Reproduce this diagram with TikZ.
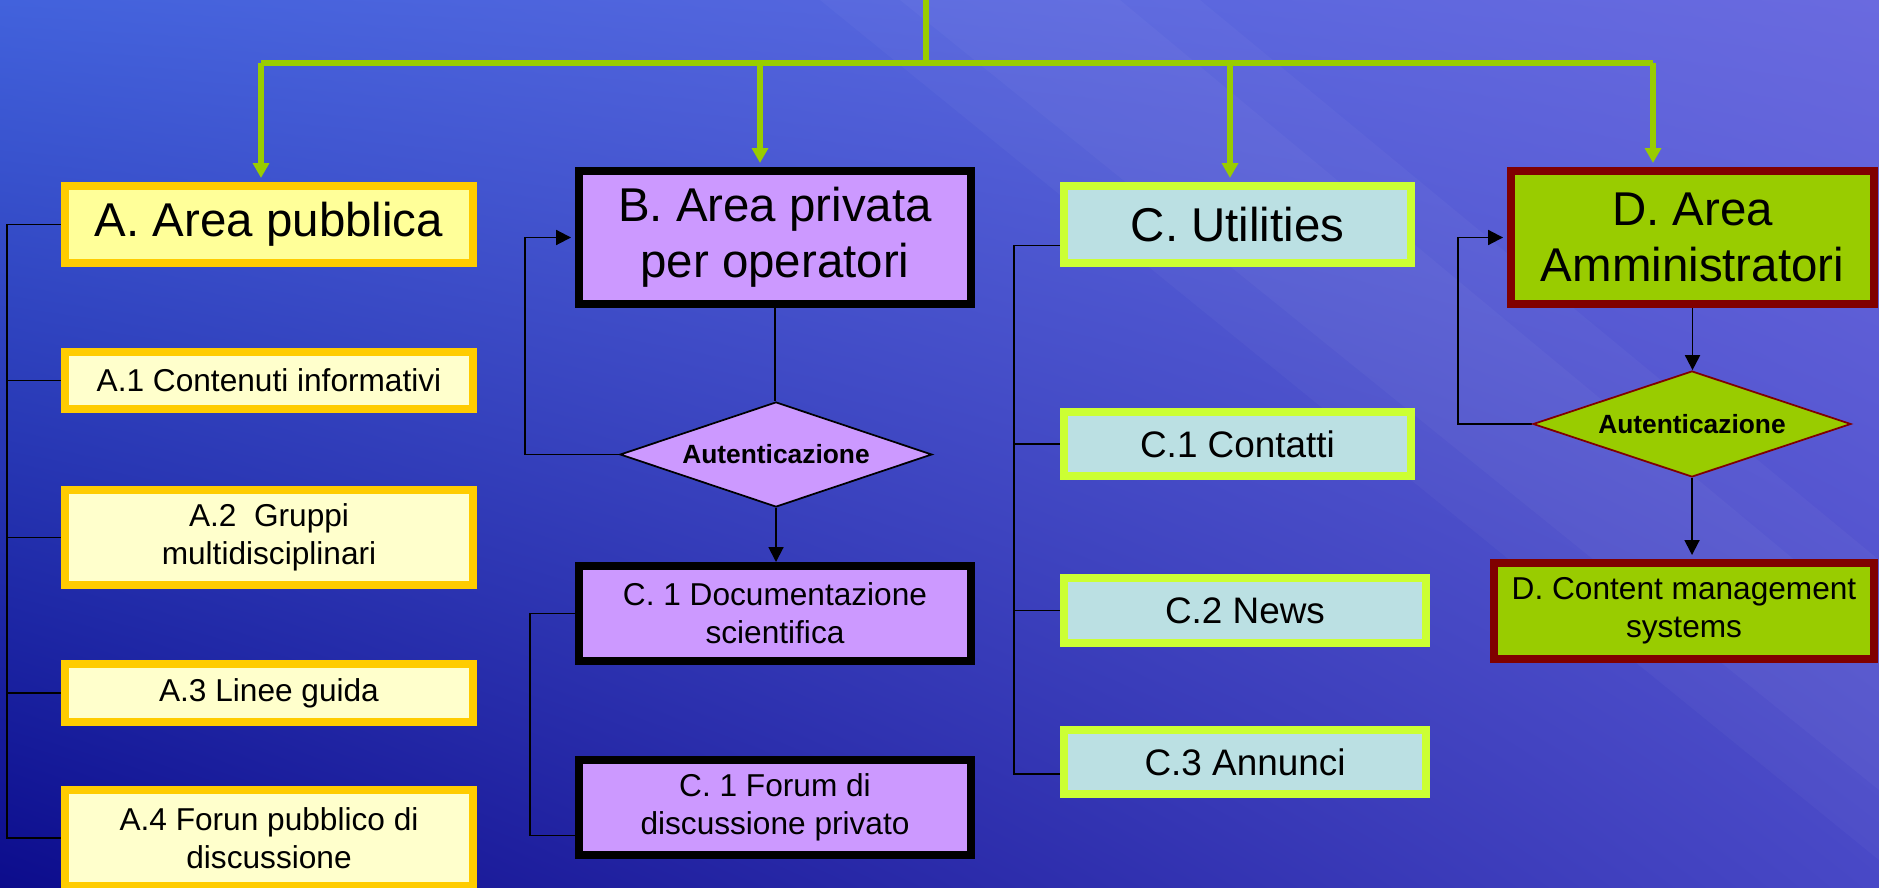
\documentclass[tikz,border=0pt]{standalone}
\usepackage{fontspec}
\setmainfont{Liberation Sans}
\usetikzlibrary{shapes.geometric,arrows.meta,calc,shadings}
\definecolor{bgul}{HTML}{4262DC}
\definecolor{bgur}{HTML}{6A6ADF}
\definecolor{bgll}{HTML}{0C0C8C}
\definecolor{bglr}{HTML}{4848C6}
\definecolor{aline}{HTML}{FFCC00}
\definecolor{ahfill}{HTML}{FFFF99}
\definecolor{aifill}{HTML}{FFFFCC}
\definecolor{bfill}{HTML}{CC99FF}
\definecolor{cline}{HTML}{CCFF33}
\definecolor{cfill}{HTML}{BBE0E3}
\definecolor{dline}{HTML}{800000}
\definecolor{dfill}{HTML}{99CC00}
\definecolor{treegreen}{HTML}{99CC00}
\pgfdeclarelayer{back}
\pgfdeclarelayer{wires}
\pgfsetlayers{back,wires,main}
\begin{document}
\begin{tikzpicture}[x=0.02cm,y=-0.02cm,
        bigfont/.style={font=\fontsize{27}{32}\selectfont},
        midfont/.style={font=\fontsize{18}{21.6}\selectfont},
        box/.style={draw,line width=0.16cm,align=center,inner sep=0pt},
        ahead/.style={box,draw=aline,fill=ahfill,minimum width=8.16cm,bigfont},
        aitem/.style={box,draw=aline,fill=aifill,minimum width=8.16cm,midfont},
        bbox/.style={box,draw=black,fill=bfill,minimum width=7.84cm},
        cbox/.style={box,draw=cline,fill=cfill,font=\fontsize{21}{25}\selectfont},
        dbox/.style={box,draw=dline,fill=dfill},
        auth/.style={diamond,aspect=3,inner sep=0pt,line width=1pt,font=\fontsize{15}{18}\selectfont\bfseries},
        link/.style={line width=1.1pt},
        linkarrow/.style={link,-{Triangle[width=8.5pt,length=8.5pt]}},
        into/.style={shorten >=0.08cm},
        branch/.style={line width=3.4pt,treegreen},
        brancharrow/.style={branch,-{Triangle[width=9pt,length=8.5pt]},into}]
        \useasboundingbox (0,0) rectangle (1879,888);
        \begin{pgfonlayer}{back}
        \shade[upper left=bgul,upper right=bgur,lower left=bgll,lower right=bglr] (0,0) rectangle (1879,888);
        \fill[white,opacity=0.03] (820,0) -- (1200,0) -- (1879,560) -- (1879,860) -- cycle;
        \fill[white,opacity=0.03] (900,0) -- (1120,0) -- (1879,630) -- (1879,790) -- cycle;
        \end{pgfonlayer}

        \node[ahead,minimum height=1.54cm] (a) at (269,224.5) {A. Area pubblica};
        \node[aitem,minimum height=1.14cm] (a1) at (269,380.5) {A.1 Contenuti informativi};
        \node[aitem,minimum height=1.90cm] (a2) at (269,537.5) {A.2\ \ Gruppi\\multidisciplinari};
        \node[aitem,minimum height=1.16cm] (a3) at (269,693) {A.3 Linee guida};
        \node[aitem,minimum height=1.92cm] (a4) at (269,838) {A.4 Forun pubblico di\\discussione};

        \node[bbox,minimum height=2.66cm,bigfont] (b) at (775,237.5) {B. Area privata\\per operatori};
        \node[auth,draw=black,fill=bfill,minimum width=6.24cm,minimum height=2.1cm] (bauth) at (776,454.5) {Autenticazione};
        \node[bbox,minimum height=1.90cm,midfont] (b1) at (775,613.5) {C. 1 Documentazione\\scientifica};
        \node[bbox,minimum height=1.90cm,midfont] (b2) at (775,807.5) {C. 1 Forum di\\discussione privato};

        \node[cbox,minimum width=6.94cm,minimum height=1.54cm,bigfont] (c) at (1237.5,224.5) {C. Utilities};
        \node[cbox,minimum width=6.94cm,minimum height=1.28cm] (c1) at (1237.5,444) {C.1 Contatti};
        \node[cbox,minimum width=7.24cm,minimum height=1.30cm] (c2) at (1245,610.5) {C.2 News};
        \node[cbox,minimum width=7.24cm,minimum height=1.28cm] (c3) at (1245,762) {C.3 Annunci};

        \node[dbox,minimum width=7.26cm,minimum height=2.66cm,bigfont] (d) at (1692.5,237.5) {D. Area\\Amministratori};
        \node[auth,draw=dline,fill=dfill,minimum width=6.36cm,minimum height=2.12cm] (dauth) at (1692,424) {Autenticazione};
        \node[dbox,minimum width=7.60cm,minimum height=1.92cm,midfont] (d2) at (1684,611) {D. Content management\\systems};

        \begin{pgfonlayer}{wires}
        \coordinate (top) at (926,0);
        \coordinate (bus) at (926,63);
        \coordinate (ta) at (261,63);
        \coordinate (tb) at (760,63);
        \coordinate (tc) at (1230,63);
        \coordinate (td) at (1653,63);
        \draw[branch] (top) -- (bus);
        \draw[branch] (ta) -- (td);
        \draw[brancharrow] (ta) -- (ta |- a.north);
        \draw[brancharrow] (tb) -- (tb |- b.north);
        \draw[brancharrow] (tc) -- (tc |- c.north);
        \draw[brancharrow] (td) -- (td |- d.north);

        \coordinate (abus) at (7,0);
        \draw[link] (a.west) -| (abus |- a4.west) -- (a4.west);
        \draw[link] (a1.west) -- (abus |- a1.west);
        \draw[link] (a2.west) -- (abus |- a2.west);
        \draw[link] (a3.west) -- (abus |- a3.west);

        \draw[link] (b.south) -- (b.south |- bauth.north);
        \draw[linkarrow] (bauth.south) -- (bauth.south |- b1.north);
        \draw[linkarrow,into] (bauth.west) -- ++(-94,0) |- (b.west);
        \draw[link] (b1.west) -- ++(-45,0) |- ($(b2.west)+(0,28)$);

        \draw[link] ($(c.west)+(0,21)$) -| ($(c3.west)+(-46,12)$) -- ($(c3.west)+(0,12)$);
        \draw[link] (c1.west) -- ++(-46,0);
        \draw[link] (c2.west) -- ++(-46,0);

        \draw[linkarrow] (d.south) -- (d.south |- dauth.north);
        \draw[linkarrow,into] (dauth.west) -- ++(-74,0) |- (d.west);
        \draw[linkarrow,into] (dauth.south) -- (dauth.south |- d2.north);
        \end{pgfonlayer}
\end{tikzpicture}
\end{document}
